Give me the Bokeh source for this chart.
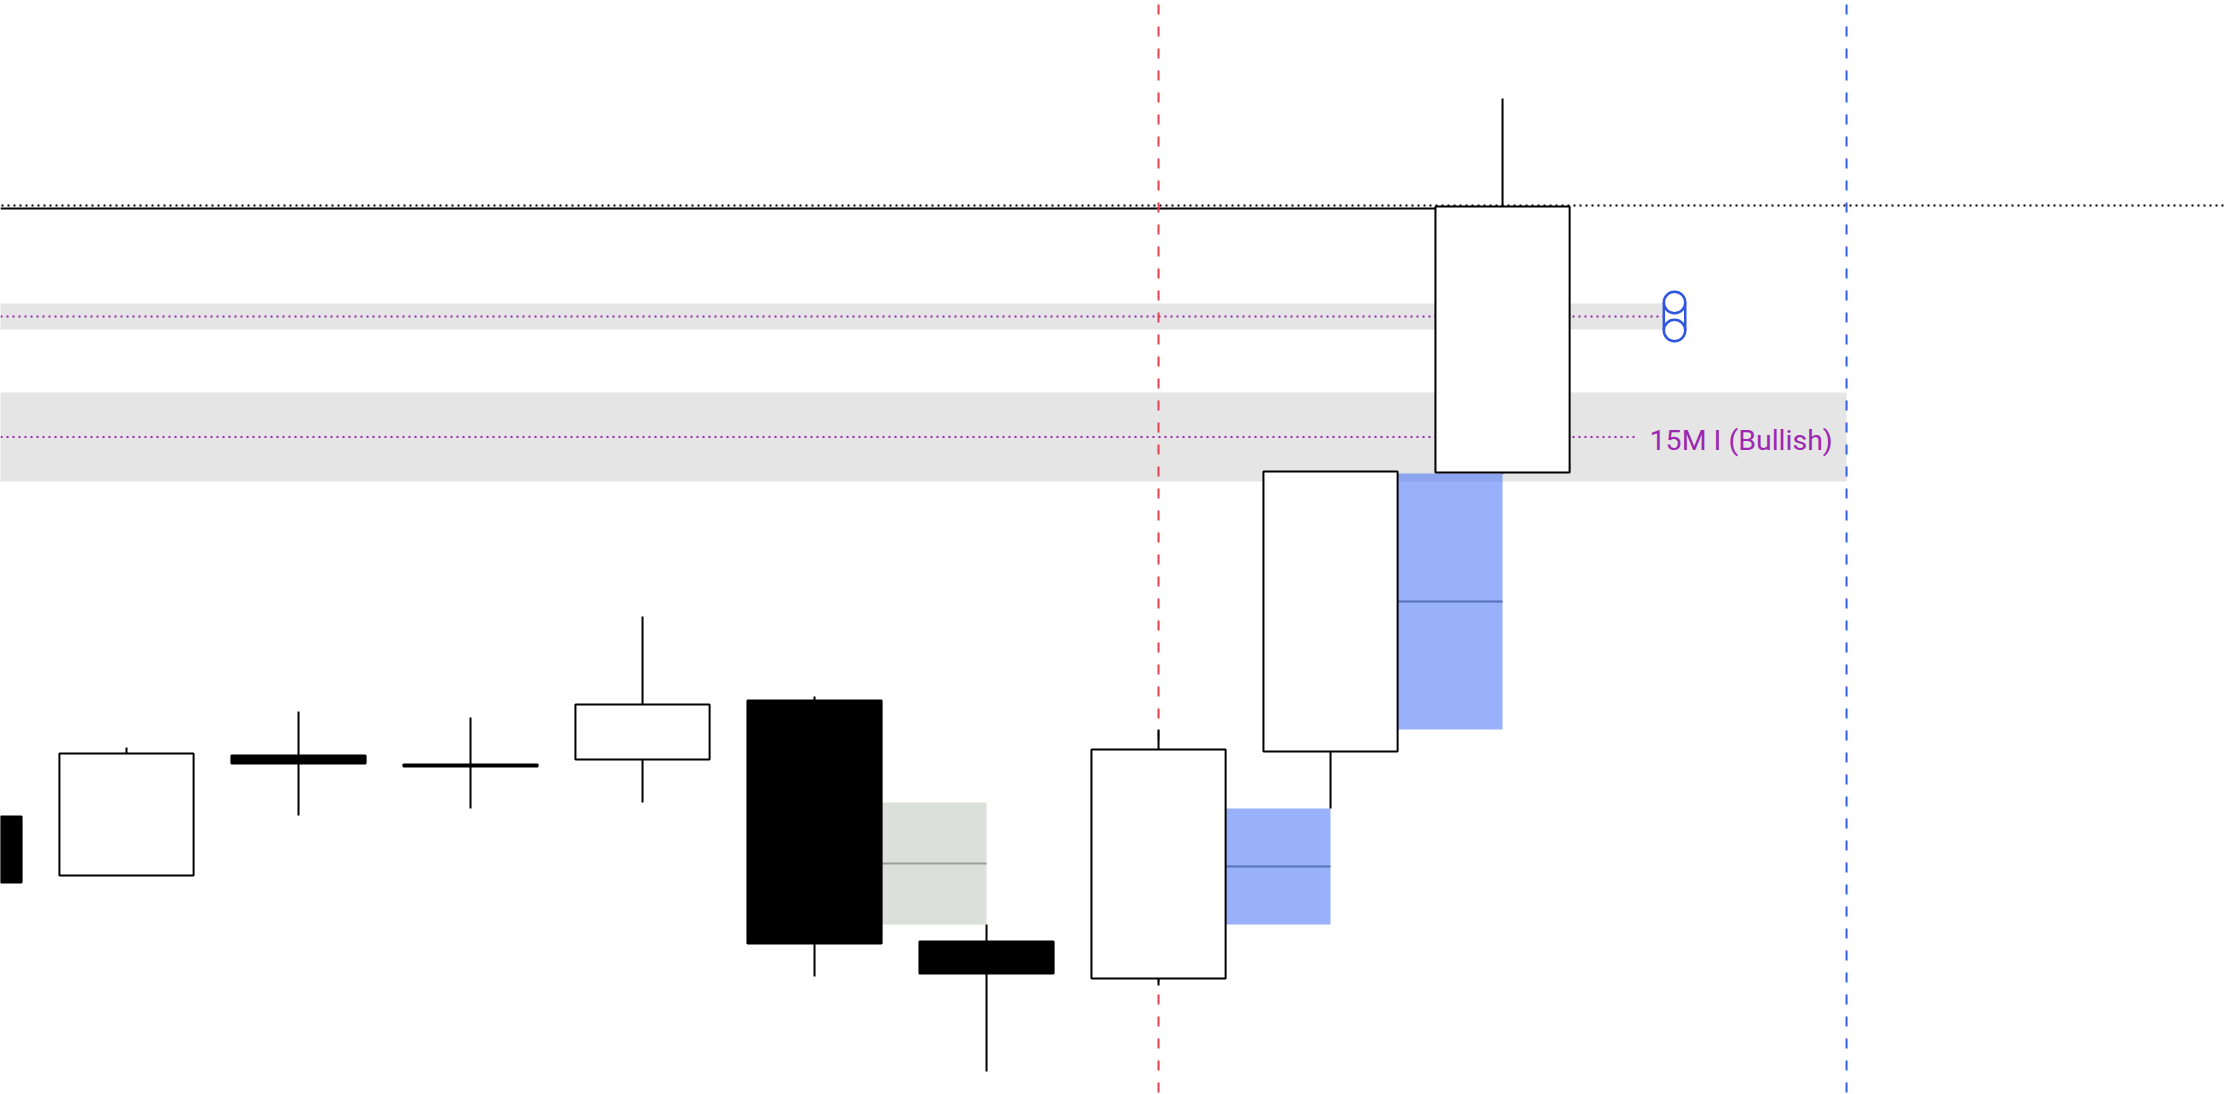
from bokeh.plotting import figure
from bokeh.models import Range1d
from bokeh.core.properties import value
from bokeh.embed import file_html
from bokeh.resources import INLINE

# ---- candle data ----
idx = [0, 1, 2, 3, 4, 5, 6, 7, 8, 9]
opens = [127.8, 121.9, 133.9, 133.0, 133.5, 139.4, 115.3, 111.6, 134.3, 162.2]
closes = [121.2, 134.1, 133.1, 132.8, 139.0, 115.1, 112.1, 134.5, 162.3, 188.8]
highs = [128.5, 134.7, 138.3, 137.7, 147.8, 139.8, 117.0, 136.5, 162.3, 199.6]
lows = [120.4, 121.9, 127.9, 128.6, 129.2, 111.8, 102.3, 110.9, 128.6, 162.1]

# ---- fair value gaps (middle candle index, direction) ----
fvg_mid = [5, 7, 8]
fvg_dir = ["bear", "bull", "bull"]

# ---- levels ----
band1_top, band1_bottom, band1_end = 179.1, 176.5, 9.938
band2_top, band2_bottom, band2_end = 170.2, 161.3, 11.0
line2_end = 9.785
dotted_level = 188.9
solid_level = 188.6
marker_x = 10.0
marker_levels = [179.2, 176.4]
red_vline_x = 7.0
blue_vline_x = 11.0
label_text = "15M I (Bullish)"
label_x, label_y = 9.855, 165.4

W, H = 2226, 1094
X_START, X_END = 0.2674, 13.209
Y_BOTTOM, Y_TOP = 100.0, 209.4
HALF_W = 0.39

p = figure(width=W, height=H, output_backend="svg", toolbar_location=None,
           x_range=Range1d(X_START, X_END), y_range=Range1d(Y_BOTTOM, Y_TOP),
           x_axis_location=None, y_axis_location=None, min_border=0)
p.outline_line_color = None
p.background_fill_color = "white"
p.border_fill_color = "white"
for g in p.grid:
    g.visible = False

PURPLE = "#9c27b0"
GRAY_BAND = "#e5e5e5"

# gray bands
p.quad(left=[X_START - 1, X_START - 1], right=[band1_end, band2_end],
       top=[band1_top, band2_top], bottom=[band1_bottom, band2_bottom],
       fill_color=GRAY_BAND, line_color=None)

# purple dotted mid lines
mid1 = (band1_top + band1_bottom) / 2
mid2 = (band2_top + band2_bottom) / 2
p.segment(x0=[X_START, X_START], y0=[mid1, mid2], x1=[band1_end, line2_end], y1=[mid1, mid2],
          line_color=PURPLE, line_width=2, line_dash="2 4", line_dash_offset=0)

# black levels
p.segment(x0=[X_START], y0=[dotted_level], x1=[X_END], y1=[dotted_level],
          line_color="black", line_width=2, line_dash="2 4", line_dash_offset=5)
p.segment(x0=[X_START], y0=[solid_level], x1=[9 - HALF_W], y1=[solid_level],
          line_color="black", line_width=2)

# vertical dashed lines
p.segment(x0=[red_vline_x], y0=[Y_TOP], x1=[red_vline_x], y1=[Y_BOTTOM],
          line_color="#e2434f", line_width=2, line_dash="10 12", line_dash_offset=18)
p.segment(x0=[blue_vline_x], y0=[Y_TOP], x1=[blue_vline_x], y1=[Y_BOTTOM],
          line_color="#325ff5", line_width=2, line_dash="10 12", line_dash_offset=18)

# FVG boxes
for m, d in zip(fvg_mid, fvg_dir):
    if d == "bull":
        top, bottom = lows[m + 1], highs[m - 1]
        p.quad(left=[m + HALF_W], right=[m + 1], top=[top], bottom=[bottom],
               fill_color="#3361f5", fill_alpha=0.5, line_color=None)
        mc = "#5571b9"
    else:
        top, bottom = lows[m - 1], highs[m + 1]
        p.quad(left=[m + HALF_W], right=[m + 1], top=[top], bottom=[bottom],
               fill_color="#dbe0dc", line_color=None)
        mc = "#9a9f9b"
    mid = (top + bottom) / 2
    p.segment(x0=[m + HALF_W], y0=[mid], x1=[m + 1], y1=[mid], line_color=mc, line_width=2)

# candles
p.segment(x0=idx, y0=lows, x1=idx, y1=highs, line_color="black", line_width=2)
colors = ["white" if c > o else "black" for o, c in zip(opens, closes)]
p.vbar(x=idx, width=2 * HALF_W, top=opens, bottom=closes, fill_color=colors,
       line_color="black", line_width=2)

# marker circles
BLUE = "#2f56e0"
r_px = 10.7
dx = r_px * (X_END - X_START) / W
p.segment(x0=[marker_x - dx, marker_x + dx], y0=[marker_levels[0]] * 2,
          x1=[marker_x - dx, marker_x + dx], y1=[marker_levels[1]] * 2,
          line_color=BLUE, line_width=2.5)
p.scatter(x=[marker_x] * 2, y=marker_levels, size=2 * r_px, marker="circle",
          fill_color="white", line_color=BLUE, line_width=2.5)

# label
p.text(x=[label_x], y=[label_y], text=[label_text], text_font=value("Roboto"),
       text_font_size="28.5px", text_color=PURPLE, text_baseline="alphabetic",
       text_align="left")

open("out.html", "w").write(file_html(p, INLINE))
